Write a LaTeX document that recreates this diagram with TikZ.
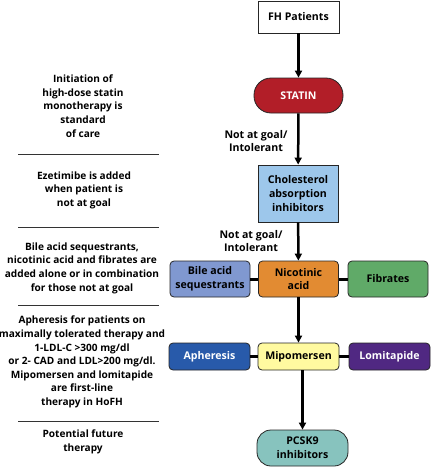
\documentclass[tikz,border=0pt]{standalone}
\usepackage{fontspec}
\setmainfont{Open Sans}
\usetikzlibrary{arrows.meta}
\definecolor{statinred}{HTML}{B21E28}
\definecolor{cholblue}{HTML}{9DC7EB}
\definecolor{bileblue}{HTML}{8098D0}
\definecolor{nicorange}{HTML}{E28B32}
\definecolor{fibgreen}{HTML}{60AA68}
\definecolor{aphblue}{HTML}{285AAA}
\definecolor{mipyellow}{HTML}{FFFAA0}
\definecolor{lompurple}{HTML}{502882}
\definecolor{pcskteal}{HTML}{87C3BE}
\begin{document}
\begin{tikzpicture}[x=1pt,y=-1pt,
  every node/.style = {align=center, font=\bfseries\fontsize{10.6}{13.6}\selectfont, inner sep=0pt},
  drug/.style = {draw=black!85, line width=0.8pt, rounded corners=4pt,
    minimum width=80pt, minimum height=36pt},
  sidetext/.style = {text=black, font=\bfseries\fontsize{10.1}{13.6}\selectfont},
  flow/.style = {line width=2.5pt, -{Triangle[length=7pt,width=7pt]}},
  link/.style = {line width=3pt}]
  \useasboundingbox (0,0) rectangle (431,467);
  % treatment column
  \node[drug, rounded corners=0pt, fill=white, minimum width=81pt, minimum height=32pt] (fh) at (298.5,17) {FH Patients};
  \node[drug, rounded corners=17pt, fill=statinred, text=white, minimum width=89pt, minimum height=35pt] (statin) at (298.5,95.5) {STATIN};
  \node[drug, rounded corners=0pt, fill=cholblue, minimum height=57pt] (chol) at (298,193.5) {Cholesterol\\absorption\\inhibitors};
  \node[drug, fill=bileblue] (bile) at (210,279) {Bile acid\\sequestrants};
  \node[drug, fill=nicorange] (nic) at (298.5,279) {Nicotinic\\acid};
  \node[drug, fill=fibgreen] (fib) at (388,279) {Fibrates};
  \node[drug, fill=aphblue, text=white, minimum width=81pt, minimum height=27pt] (aph) at (209.5,356.5) {Apheresis};
  \node[drug, fill=mipyellow, minimum width=81pt, minimum height=27pt] (mip) at (298.5,356.5) {Mipomersen};
  \node[drug, fill=lompurple, text=white, minimum width=81pt, minimum height=27pt] (lom) at (389.5,356.5) {Lomitapide};
  \node[drug, rounded corners=14pt, fill=pcskteal, minimum width=91pt, minimum height=36pt] (pcsk) at (302.5,448) {PCSK9\\inhibitors};
  \node (goal1) at (256,141) {Not at goal/\\Intolerant};
  \node (goal2) at (251,241) {Not at goal/\\Intolerant};
  \draw[flow] (fh) -- (statin);
  \draw[flow] (statin) -- (chol);
  \draw[flow] (chol) -- (nic);
  \draw[flow] (nic) -- (mip);
  \draw[flow] (mip.south -| pcsk.north) -- (pcsk);
  \draw[link] (bile) -- (nic);
  \draw[link] (nic) -- (fib);
  \draw[link] (aph) -- (mip);
  \draw[link] (mip) -- (lom);
  % notes on the left
  \node[sidetext] (note1) at (83,106) {Initiation of\\high-dose statin\\monotherapy is\\standard\\of care};
  \node[sidetext] (note2) at (84,190) {Ezetimibe is added\\when patient is\\not at goal};
  \node[sidetext] (note3) at (82,268) {Bile acid sequestrants,\\nicotinic acid and fibrates are\\added alone or in combination\\for those not at goal};
  \node[sidetext] (note4) at (82,362) {Apheresis for patients on\\maximally tolerated therapy and\\1-LDL-C >300 mg/dl\\or 2- CAD and LDL>200 mg/dl.\\Mipomersen and lomitapide\\are first-line\\therapy in HoFH};
  \node[sidetext] (note5) at (83,442) {Potential future\\therapy};
  \foreach \y in {154,227,305,421}
    \draw[line width=0.8pt, black!80] (18,\y) -- (159,\y);
\end{tikzpicture}
\end{document}
